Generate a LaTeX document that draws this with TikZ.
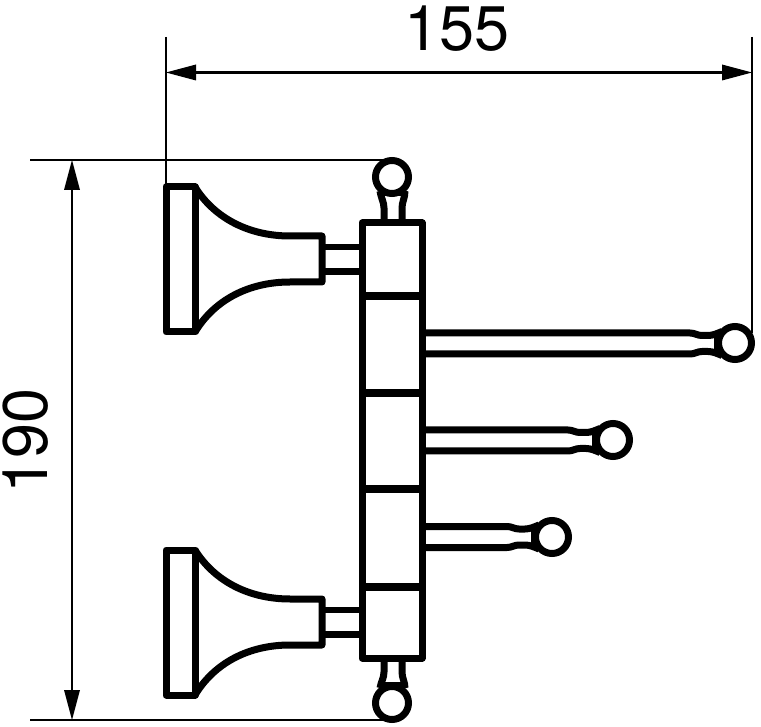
\documentclass[tikz,border=0pt]{standalone}
\usepackage{fontspec}
\setmainfont{TeX Gyre Heros}
\usetikzlibrary{arrows.meta}
\tikzset{
  part/.style={line width=7pt,line join=round,line cap=butt,black},
  neckline/.style={line width=6.5pt,black},
  dimline/.style={line width=2.6pt,black},
  ball/.style={circle,draw=black,fill=white,line width=7pt,minimum size=33pt,inner sep=0pt,outer sep=0pt},
  dimarrow/.style={dimline,{Triangle[length=30pt,width=16pt,line width=0pt]}-{Triangle[length=30pt,width=16pt,line width=0pt]}},
  dimtext/.style={font=\fontsize{63}{63}\selectfont,inner sep=0pt}
}
% bracket of a swing arm: #1 = ball x, #2 = ball y
\newcommand{\swingarm}[2]{%
  \draw[part] (422,#2-10.5) -- (#1-45,#2-10.5) .. controls (#1-40,#2-10.5) and (#1-38,#2-8) .. (#1-33,#2-8)
     -- (#1-27,#2-8) .. controls (#1-22,#2-8) and (#1-18,#2-10) .. (#1-13,#2-12);
  \draw[part] (422,#2+10.5) -- (#1-45,#2+10.5) .. controls (#1-40,#2+10.5) and (#1-38,#2+8) .. (#1-33,#2+8)
     -- (#1-27,#2+8) .. controls (#1-22,#2+8) and (#1-18,#2+10) .. (#1-13,#2+12);
  \draw[part] (#1-18,#2-10) -- (#1-18,#2+10);
}
% wall mount: #1 = top y of the plate
\newcommand{\wallmount}[1]{%
  \draw[part] (166,#1) rectangle (195,#1+145);
  \draw[part] (195,#1) .. controls (215,#1+32) and (250,#1+49) .. (290,#1+49) -- (322,#1+49)
     -- (322,#1+95) -- (290,#1+95) .. controls (250,#1+95) and (215,#1+112) .. (195,#1+145);
  \draw[neckline] (322,#1+60) -- (362,#1+60);
  \draw[neckline] (322,#1+84.5) -- (362,#1+84.5);
}
\begin{document}
\begin{tikzpicture}[x=1pt,y=-1pt]
\useasboundingbox (0,0) rectangle (761,727);
% dimension anchors
\coordinate (wl) at (166,37);
\coordinate (wlb) at (166,187);
\coordinate (wr) at (752,37);
\coordinate (wrb) at (752,333);
\coordinate (hl) at (30,160);
\coordinate (hlb) at (30,720);
\coordinate (hr) at (385,160);
\coordinate (hrb) at (385,720);
\coordinate (da) at (166,72.5);
\coordinate (db) at (752,72.5);
\coordinate (dc) at (72,160);
\coordinate (dd) at (72,720);
% extension and dimension lines
\draw[dimline] (wl) -- (wlb);
\draw[dimline] (wr) -- (wrb);
\draw[dimline] (hl) -- (hr);
\draw[dimline] (hlb) -- (hrb);
\draw[dimarrow] (da) -- (db);
\draw[dimarrow] (dc) -- (dd);
\node[dimtext] (w) at (457,29) {155};
\node[dimtext,rotate=90] (h) at (26,441) {190};
% wall mounts
\wallmount{187}
\wallmount{550}
% top and bottom stems
\draw[part] (384,223) -- (384,208) .. controls (384,202) and (381,198) .. (380,191);
\draw[part] (402,223) -- (402,208) .. controls (402,202) and (405,198) .. (405,191);
\draw[part] (380,193) -- (405,193);
\draw[part] (384,658) -- (384,672) .. controls (384,678) and (381,682) .. (380,688);
\draw[part] (402,658) -- (402,672) .. controls (402,678) and (405,682) .. (405,688);
\draw[part] (380,685) -- (405,685);
% arms
\swingarm{735}{343.5}
\swingarm{613}{440.5}
\swingarm{552}{537}
% column
\draw[part,fill=white] (362,223) rectangle (422,658);
\draw[line width=7.5pt] (362,296) -- (422,296);
\draw[line width=7.5pt] (362,393) -- (422,393);
\draw[line width=7.5pt] (362,489) -- (422,489);
\draw[line width=7.5pt] (362,587) -- (422,587);
% balls
\node[ball] (bt) at (392,177) {};
\node[ball] (bb) at (392,703) {};
\node[ball] (b1) at (735,343) {};
\node[ball] (b2) at (613,440) {};
\node[ball] (b3) at (552,537) {};
\end{tikzpicture}
\end{document}
